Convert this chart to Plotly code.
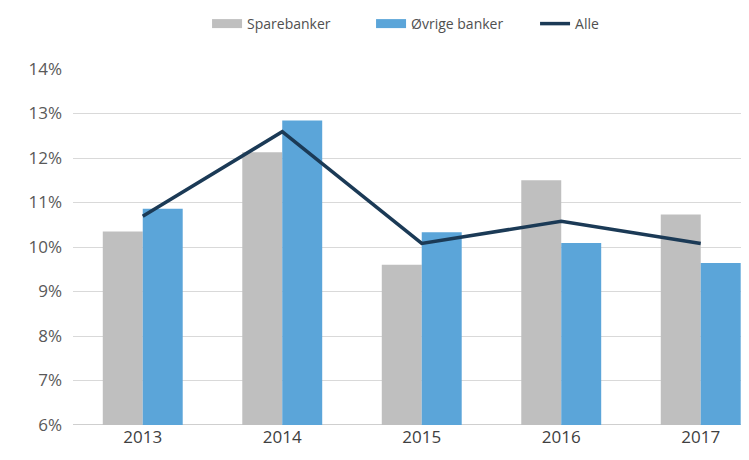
import plotly.graph_objects as go

years = ["2013", "2014", "2015", "2016", "2017"]
sparebanker = [10.35, 12.13, 9.60, 11.50, 10.73]
ovrige = [10.86, 12.84, 10.33, 10.09, 9.64]
alle = [10.69, 12.59, 10.08, 10.58, 10.08]
yticks = [6, 7, 8, 9, 10, 11, 12, 13, 14]
ytick_labels = [f"{v}%" for v in yticks]

GRAY = "#bfbfbf"
BLUE = "#5ba5d9"
NAVY = "#1b3a56"

fig = go.Figure()
fig.add_trace(go.Bar(x=years, y=sparebanker, name="Sparebanker", showlegend=False,
                     marker=dict(color=GRAY, line=dict(width=0))))
fig.add_trace(go.Bar(x=years, y=ovrige, name="Øvrige banker", showlegend=False,
                     marker=dict(color=BLUE, line=dict(width=0))))
fig.add_trace(go.Scatter(x=years, y=alle, name="Alle", mode="lines", showlegend=False,
                         line=dict(color=NAVY, width=3.5)))
# legend entries (wide swatches like the reference)
fig.add_trace(go.Scatter(x=[None], y=[None], name="Sparebanker", mode="lines",
                         line=dict(color=GRAY, width=9)))
fig.add_trace(go.Scatter(x=[None], y=[None], name="Øvrige banker", mode="lines",
                         line=dict(color=BLUE, width=9)))
fig.add_trace(go.Scatter(x=[None], y=[None], name="Alle", mode="lines",
                         line=dict(color=NAVY, width=3.5)))

fig.update_layout(
    width=741, height=452,
    margin=dict(l=65, r=0, t=56, b=35),
    paper_bgcolor="white", plot_bgcolor="white",
    barmode="group", bargap=0.427, bargroupgap=0,
    font=dict(family="Open Sans, sans-serif", size=17, color="#595959"),
    showlegend=True,
    legend=dict(orientation="h", x=0.1983, xanchor="left", y=1.127, yanchor="middle",
                font=dict(size=14, color="#505050"), traceorder="normal",
                itemwidth=30, tracegroupgap=0, entrywidth=119, entrywidthmode="pixels"),
    xaxis=dict(type="category", range=[-0.5, 4.346], showgrid=False,
               showline=False, ticks="", tickfont=dict(size=17, color="#404040")),
    yaxis=dict(range=[6, 14], tickvals=yticks, ticktext=ytick_labels,
               showgrid=True, gridcolor="#d9d9d9", gridwidth=1,
               zeroline=False, showline=False, ticks="", ticklabelstandoff=10,
               tickfont=dict(size=17, color="#595959")),
)
fig.add_shape(type="line", xref="paper", yref="y", x0=0, x1=1, y0=6, y1=6,
              line=dict(color="#bfbfbf", width=1.5), layer="below")

fig.write_html("out.html")
